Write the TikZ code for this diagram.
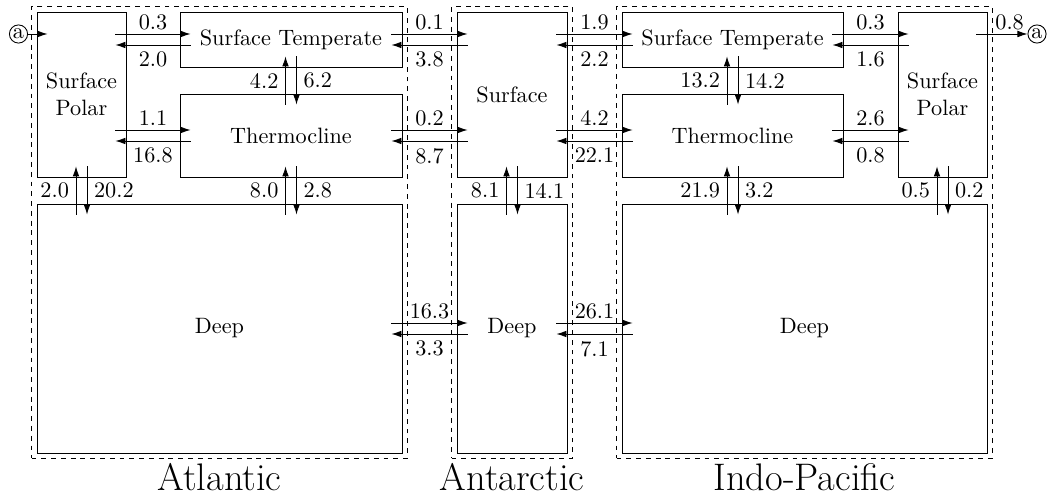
\documentclass[tikz,border=0pt]{standalone}
\usetikzlibrary{positioning,calc,fit,arrows.meta}

\begin{document}
\begin{tikzpicture}[
    x=0.45pt, y=-0.45pt,
    box/.style={draw, inner sep=0pt, align=center},
    basin/.style={draw, dash pattern=on 2.2pt off 2.2pt, inner sep=2.25pt},
    title/.style={font=\LARGE, inner sep=2pt},
    flow/.style={-{Latex[length=4.5pt,width=3pt]}},
    val/.style={inner sep=3pt},
    src/.style={draw, circle, inner sep=0.5pt}
  ]
    \useasboundingbox (0,0) rectangle (1049,497);

    % Atlantic
    \node[box, minimum width=40.05pt, minimum height=74.25pt] (spA) at (81.5,94.5) {Surface\\Polar};
    \node[box, minimum width=99.9pt, minimum height=24.75pt] (stA) at (291,39.5) {Surface Temperate};
    \node[box, minimum width=99.9pt, minimum height=37.35pt] (thA) at (291,135.5) {Thermocline};
    \node[box, minimum width=164.25pt, minimum height=112.05pt] (dpA) at (219.5,328.5) {Deep};
    \node[basin, fit=(spA)(stA)(dpA)] (regA) {};
    \node[title, below=0pt of regA] (tA) {Atlantic};

    % Antarctic
    \node[box, minimum width=49.5pt, minimum height=74.25pt] (srS) at (512,94.5) {Surface};
    \node[box, minimum width=49.5pt, minimum height=112.05pt] (dpS) at (512,328.5) {Deep};
    \node[basin, fit=(srS)(dpS)] (regS) {};
    \node[title, below=0pt of regS] (tS) {Antarctic};

    % Indo-Pacific
    \node[box, minimum width=99.45pt, minimum height=24.75pt] (stI) at (732.5,39.5) {Surface Temperate};
    \node[box, minimum width=99.45pt, minimum height=37.35pt] (thI) at (732.5,135.5) {Thermocline};
    \node[box, minimum width=40.05pt, minimum height=74.25pt] (spI) at (942.5,94.5) {Surface\\Polar};
    \node[box, minimum width=164.25pt, minimum height=112.05pt] (dpI) at (804.5,328.5) {Deep};
    \node[basin, fit=(stI)(spI)(dpI)] (regI) {};
    \node[title, below=0pt of regI] (tI) {Indo-Pacific};

    % horizontal exchanges
    \foreach \wn/\en/\cn/\hi/\lo in {spA/stA/stA/0.3/2.0, spA/thA/thA/1.1/16.8,
        stA/srS/stA/0.1/3.8, thA/srS/thA/0.2/8.7, dpA/dpS/dpS/16.3/3.3,
        srS/stI/stI/1.9/2.2, srS/thI/thI/4.2/22.1, dpS/dpI/dpS/26.1/7.1,
        stI/spI/stI/0.3/1.6, thI/spI/thI/2.6/0.8} {
      \draw[flow] ($(\wn.east |- \cn.center)+(-11,-5.5)$) -- ($(\en.west |- \cn.center)+(11,-5.5)$)
        node[val, midway, above, inner sep=1.8pt] {\hi};
      \draw[flow] ($(\en.west |- \cn.center)+(11,5.5)$) -- ($(\wn.east |- \cn.center)+(-11,5.5)$)
        node[val, midway, below] {\lo};
    }

    % vertical exchanges
    \foreach \un/\dn/\cn/\hi/\lo in {stA/thA/stA/4.2/6.2, spA/dpA/spA/2.0/20.2,
        thA/dpA/thA/8.0/2.8, srS/dpS/srS/8.1/14.1, stI/thI/stI/13.2/14.2,
        thI/dpI/thI/21.9/3.2, spI/dpI/spI/0.5/0.2} {
      \draw[flow] ($(\cn.center |- \dn.north)+(-5.5,11)$) -- ($(\cn.center |- \un.south)+(-5.5,-11)$)
        node[val, midway, left] {\hi};
      \draw[flow] ($(\cn.center |- \un.south)+(5.5,-11)$) -- ($(\cn.center |- \dn.north)+(5.5,11)$)
        node[val, midway, right] {\lo};
    }

    % link between the polar surfaces
    \node[src] (inA) at (18.5,34) {a};
    \node[src] (outA) at (1037,34) {a};
    \draw[flow] (inA) -- ($(spA.west |- stA.center)+(11,-5.5)$);
    \draw[flow] ($(spI.east |- stI.center)+(-11,-5.5)$) -- (outA)
      node[val, pos=0.65, above, inner sep=1.8pt] {0.8};
  \end{tikzpicture}
\end{document}
